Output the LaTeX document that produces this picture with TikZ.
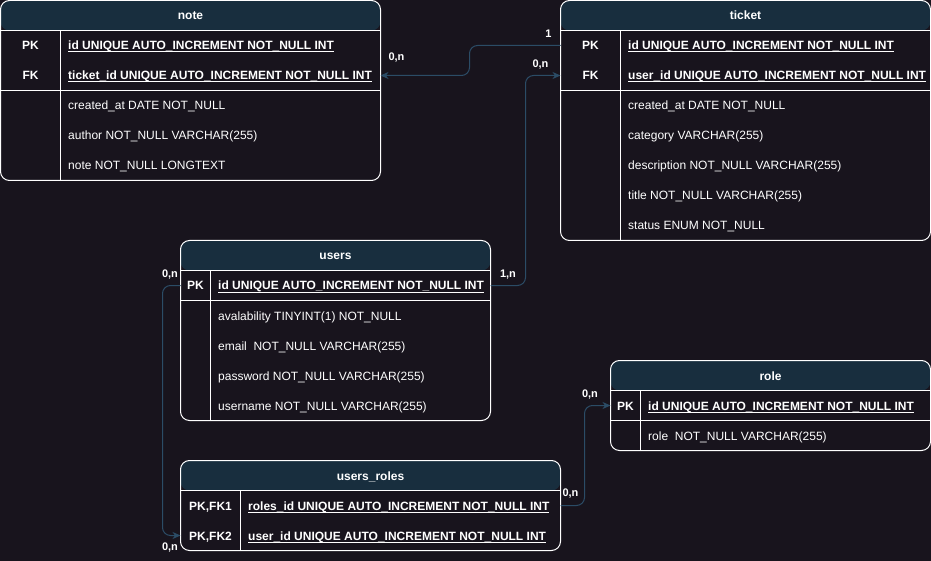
\documentclass[tikz,border=0pt]{standalone}
\usepackage{fontspec}
\setmainfont{Liberation Sans}
\usetikzlibrary{calc,arrows.meta}

\definecolor{bg}{HTML}{18141D}
\definecolor{hdr}{HTML}{182E3E}
\definecolor{wire}{HTML}{2B4C66}

\newcommand{\tblfont}{\fontsize{12}{14}\selectfont}
\newcommand{\lblfont}{\fontsize{11}{13}\selectfont\bfseries}
% underline that sits on the underscores
\newcommand{\keyline}[1]{\setbox0\hbox{#1}\rlap{\rule[-2.4pt]{\wd0}{0.9pt}}\box0}

\tikzset{
  tbl/.style={draw=white, line width=1pt, rounded corners=9pt, inner sep=0pt, outer sep=0pt, anchor=north west,
    path picture={\fill[hdr] (path picture bounding box.north west) rectangle ([yshift=-30pt]path picture bounding box.north east);}},
  sepline/.style={draw=white, line width=1pt},
  title/.style={anchor=base, text=white, inner sep=0pt, font=\tblfont\bfseries},
  key/.style={anchor=base, text=white, inner sep=0pt, text height=9pt, text depth=0pt, font=\tblfont\bfseries},
  field/.style={anchor=base west, text=white, inner sep=0pt, font=\tblfont},
  keyfield/.style={field, font=\tblfont\bfseries},
  conn/.style={draw=wire, line width=1pt, rounded corners=8pt, -{Stealth[length=8pt,width=7pt,inset=2.5pt]}},
  lbl/.style={anchor=base, text=white, inner sep=0pt, font=\lblfont}
}

\begin{document}
\begin{tikzpicture}[x=1pt,y=-1pt,font=\tblfont]
  \useasboundingbox[fill=bg] (0,0) rectangle (931,561);

  % note
  \node[tbl,minimum width=380,minimum height=180] (note) at (0.5,0.5) {};
  \draw[sepline] (0.5,30.5) -- (380.5,30.5) (0.5,90.5) -- (380.5,90.5) (60.5,30.5) -- (60.5,180.5);
  \node[title] (note-t) at (190.5,20) {note};
  \node[key] (note-pk) at (30.5,50) {PK};
  \node[key] (note-fk) at (30.5,80) {FK};
  \node[keyfield] (note-id) at (68,50) {\keyline{id UNIQUE AUTO\_INCREMENT NOT\_NULL INT}};
  \node[keyfield] (note-tid) at (68,80) {\keyline{ticket\_id UNIQUE AUTO\_INCREMENT NOT\_NULL INT}};
  \foreach \f [count=\i] in {created\_at DATE NOT\_NULL, author NOT\_NULL VARCHAR(255), note NOT\_NULL LONGTEXT}
    \node[field] (note-f\i) at (68,80+30*\i) {\f};

  % ticket
  \node[tbl,minimum width=370,minimum height=240] (ticket) at (560.5,0.5) {};
  \draw[sepline] (560.5,30.5) -- (930.5,30.5) (560.5,90.5) -- (930.5,90.5) (620.5,30.5) -- (620.5,240.5);
  \node[title] (ticket-t) at (745.5,20) {ticket};
  \node[key] (ticket-pk) at (590.5,50) {PK};
  \node[key] (ticket-fk) at (590.5,80) {FK};
  \node[keyfield] (ticket-id) at (628,50) {\keyline{id UNIQUE AUTO\_INCREMENT NOT\_NULL INT}};
  \node[keyfield] (ticket-uid) at (628,80) {\keyline{user\_id UNIQUE AUTO\_INCREMENT NOT\_NULL INT}};
  \foreach \f [count=\i] in {created\_at DATE NOT\_NULL, category VARCHAR(255), description NOT\_NULL VARCHAR(255), title NOT\_NULL VARCHAR(255), status ENUM NOT\_NULL}
    \node[field] (ticket-f\i) at (628,80+30*\i) {\f};

  % users
  \node[tbl,minimum width=310,minimum height=180] (users) at (180.5,240.5) {};
  \draw[sepline] (180.5,270.5) -- (490.5,270.5) (180.5,300.5) -- (490.5,300.5) (210.5,270.5) -- (210.5,420.5);
  \node[title] (users-t) at (335.5,260) {users};
  \node[key] (users-pk) at (195.5,290) {PK};
  \node[keyfield] (users-id) at (218,290) {\keyline{id UNIQUE AUTO\_INCREMENT NOT\_NULL INT}};
  \foreach \f [count=\i] in {avalability TINYINT(1) NOT\_NULL, email\ \ NOT\_NULL VARCHAR(255), password NOT\_NULL VARCHAR(255), username NOT\_NULL VARCHAR(255)}
    \node[field] (users-f\i) at (218,290+30*\i) {\f};

  % role
  \node[tbl,minimum width=320,minimum height=90] (role) at (610.5,360.5) {};
  \draw[sepline] (610.5,390.5) -- (930.5,390.5) (610.5,420.5) -- (930.5,420.5) (640.5,390.5) -- (640.5,450.5);
  \node[title] (role-t) at (770.5,380) {role};
  \node[key] (role-pk) at (625.5,410) {PK};
  \node[keyfield] (role-id) at (648,410) {\keyline{id UNIQUE AUTO\_INCREMENT NOT\_NULL INT}};
  \node[field] (role-f1) at (648,440) {role\ \ NOT\_NULL VARCHAR(255)};

  % users_roles
  \node[tbl,minimum width=380,minimum height=90] (ur) at (180.5,460.5) {};
  \draw[sepline] (180.5,490.5) -- (560.5,490.5) (240.5,490.5) -- (240.5,550.5);
  \node[title] (ur-t) at (370.5,480) {users\_roles};
  \node[key] (ur-fk1) at (210.5,510) {PK,FK1};
  \node[key] (ur-fk2) at (210.5,540) {PK,FK2};
  \node[keyfield] (ur-rid) at (248,510) {\keyline{roles\_id UNIQUE AUTO\_INCREMENT NOT\_NULL INT}};
  \node[keyfield] (ur-uid) at (248,540) {\keyline{user\_id UNIQUE AUTO\_INCREMENT NOT\_NULL INT}};

  % relations
  \draw[conn] (ticket.west |- ticket-pk) -- ++(-91,0) |- (note.east |- note-fk);
  \draw[conn] (users.east |- users-pk) -- ++(35,0) |- (ticket.west |- ticket-fk);
  \draw[conn] (users.west |- users-pk) -- ++(-18,0) |- (ur.west |- ur-fk2);
  \draw[conn] (ur.east |- ur-fk1) -- ++(24,0) |- (role.west |- role-pk);

  % cardinalities
  \node[lbl] (c1-a) at (548.5,37.5) {1};
  \node[lbl] (c1-b) at (396.5,60.5) {0,n};
  \node[lbl] (c2-a) at (508,277.5) {1,n};
  \node[lbl] (c2-b) at (540.5,67.5) {0,n};
  \node[lbl] (c3-a) at (170,277.5) {0,n};
  \node[lbl] (c3-b) at (170,550) {0,n};
  \node[lbl] (c4-a) at (570.5,496.5) {0,n};
  \node[lbl] (c4-b) at (590,397) {0,n};
\end{tikzpicture}
\end{document}
